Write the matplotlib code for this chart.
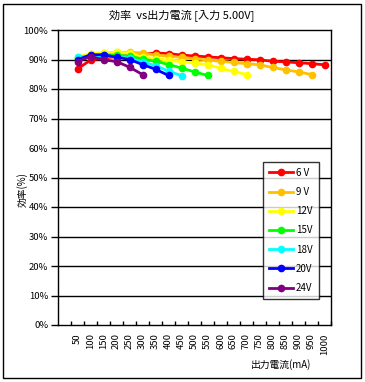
import numpy as np
import matplotlib
matplotlib.use("Agg")
import matplotlib.pyplot as plt
from matplotlib.patches import Rectangle

plt.rcParams['font.family'] = ['Noto Sans CJK JP', 'DejaVu Sans']

# 出力電流 (mA)
currents = ["50", "100", "150", "200", "250", "300", "350", "400", "450", "500",
            "550", "600", "650", "700", "750", "800", "850", "900", "950", "1000"]
n = np.nan

eff_6v = [86.8, 89.8, 90.5, 91.0, 91.3, 91.8, 92.2, 92.0, 91.5, 91.2,
          90.9, 90.6, 90.3, 90.1, 89.9, 89.4, 89.2, 88.9, 88.6, 88.2]
eff_9v = [90.3, 91.8, 92.2, 92.4, 92.5, 92.2, 91.5, 91.1, 90.7, 90.3,
          89.8, 89.4, 89.0, 88.6, 88.2, 87.3, 86.5, 85.8, 84.9, n]
eff_12v = [90.8, 92.0, 92.3, 92.4, 92.2, 90.9, 90.3, 89.7, 89.3, 88.8,
           88.3, 87.0, 86.0, 84.9, n, n, n, n, n, n]
eff_15v = [90.5, 91.3, 91.6, 91.5, 91.1, 90.2, 89.4, 88.3, 87.1, 85.8,
           84.6, n, n, n, n, n, n, n, n, n]
eff_18v = [90.8, 91.2, 91.3, 91.0, 90.4, 89.2, 87.9, 86.1, 84.5, n,
           n, n, n, n, n, n, n, n, n, n]
eff_20v = [89.9, 91.6, 91.6, 90.8, 90.0, 88.3, 86.7, 84.6, n, n,
           n, n, n, n, n, n, n, n, n, n]
eff_24v = [89.3, 91.0, 89.9, 89.3, 87.4, 84.9, n, n, n, n,
           n, n, n, n, n, n, n, n, n, n]

labels = ["6 V", "9 V", "12V", "15V", "18V", "20V", "24V"]
colors = ["#FF0000", "#FFC000", "#FFFF00", "#00FF00", "#00FFFF", "#0000FF", "#800080"]
series = [eff_6v, eff_9v, eff_12v, eff_15v, eff_18v, eff_20v, eff_24v]

fig = plt.figure(figsize=(3.65, 3.82), dpi=100)
ax = fig.add_axes([58 / 365, 57 / 382, 273 / 365, 295 / 382])

x = np.arange(len(currents))
for vals, lab, col in zip(series, labels, colors):
    ax.plot(x, vals, color=col, lw=2, marker='o', ms=4.5, label=lab)

ax.set_xlim(-1.5, len(currents) - 0.5)
ax.set_ylim(0, 100)
yt = list(range(0, 101, 10))
ax.set_yticks(yt)
ax.set_yticklabels([f"{v}%" for v in yt], fontsize=6.8)
for v in yt[1:-1]:
    ax.axhline(v, color='black', lw=1, zorder=0)
ax.tick_params(axis='y', direction='out', length=5, width=1, pad=2)

ax.set_xticks(x)
ax.set_xticklabels(currents, rotation=90, fontsize=6.8)
ax.tick_params(axis='x', length=0, pad=6)
ax.set_xticks(np.arange(-0.5, len(currents)), minor=True)
ax.tick_params(axis='x', which='minor', direction='in', length=3, width=1)

for s in ax.spines.values():
    s.set_linewidth(1)
    s.set_color('black')

leg = ax.legend(loc='upper left', bbox_to_anchor=(0.751, 0.553), fontsize=7,
                frameon=True, fancybox=False, edgecolor='black',
                labelspacing=0.95, handlelength=2.5, handletextpad=0.3,
                borderpad=0.6, borderaxespad=0)
leg.get_frame().set_linewidth(1)

fig.text(182 / 365, 1 - 15 / 382, "効率  vs出力電流 [入力 5.00V]", ha='center', va='center', fontsize=8)
fig.text(22 / 365, 1 - 190 / 382, "効率(%)", rotation=90, ha='center', va='center', fontsize=7)
fig.text(281 / 365, 1 - 365 / 382, "出力電流(mA)", ha='center', va='center', fontsize=7)

fig.patches.append(Rectangle((3 / 365, 4 / 382), 358 / 365, 374 / 382, transform=fig.transFigure,
                             fill=False, edgecolor='black', lw=1))

fig.savefig("out.png", dpi=100)
